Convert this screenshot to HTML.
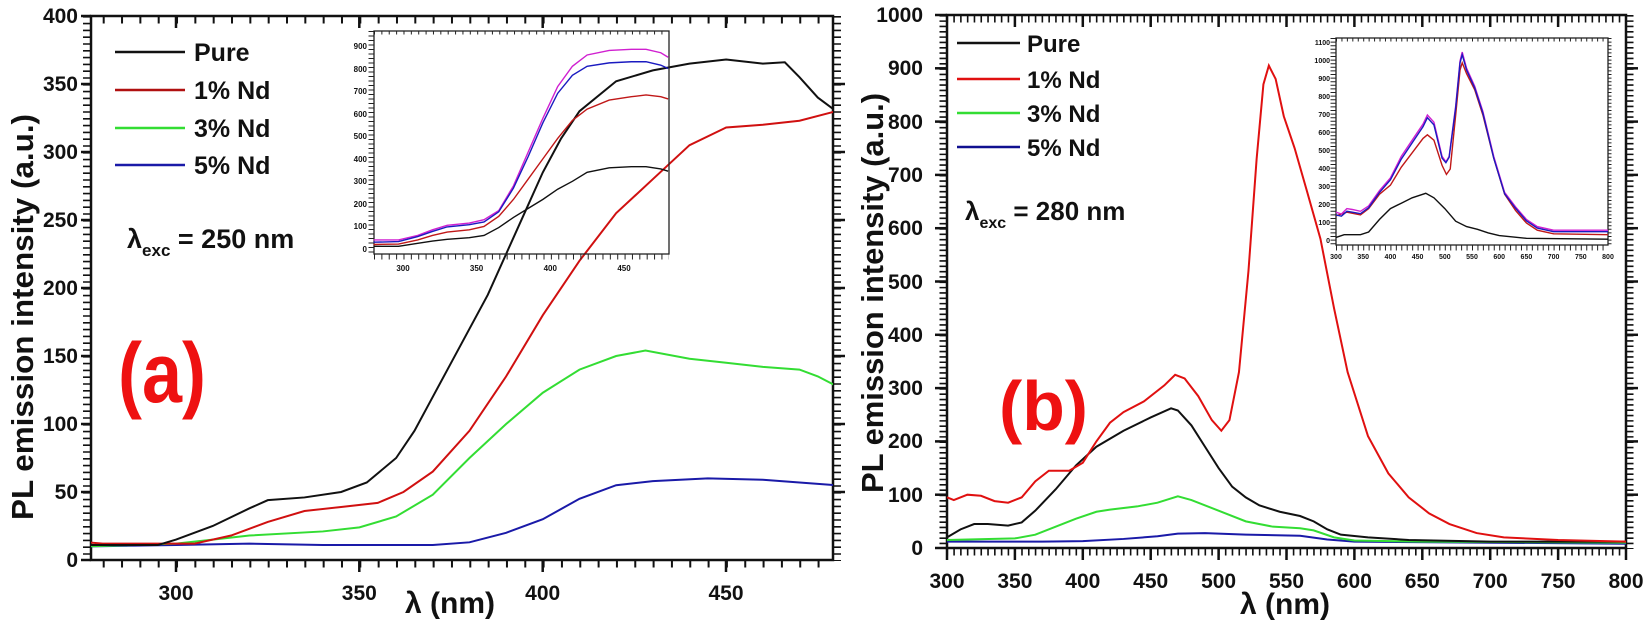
<!DOCTYPE html>
<html><head><meta charset="utf-8"><style>
html,body{margin:0;padding:0;background:#fff}
svg{display:block}
text{font-family:"Liberation Sans",Arial,sans-serif;font-weight:bold;fill:#111}
.d{fill:none;vector-effect:non-scaling-stroke;stroke-width:2}
.di{fill:none;vector-effect:non-scaling-stroke;stroke-width:1.4}
</style></head><body>
<svg width="1650" height="636" viewBox="0 0 1650 636" xmlns="http://www.w3.org/2000/svg">
<rect width="1650" height="636" fill="#fff"/>

<!-- ================= PANEL A ================= -->
<g stroke="#111" fill="none">
<rect x="91" y="16" width="742" height="544" stroke-width="2.5"/>
<line x1="102.7" y1="564" x2="834" y2="564" stroke-width="7" stroke-dasharray="2 16.33"/>
<line x1="102.7" y1="20" x2="834" y2="20" stroke-width="7" stroke-dasharray="2 16.33"/>
<g stroke-width="2.5">
<line x1="176" y1="560" x2="176" y2="572"/><line x1="359.3" y1="560" x2="359.3" y2="572"/><line x1="542.7" y1="560" x2="542.7" y2="572"/><line x1="726" y1="560" x2="726" y2="572"/>
<line x1="176" y1="16" x2="176" y2="28"/><line x1="359.3" y1="16" x2="359.3" y2="28"/><line x1="542.7" y1="16" x2="542.7" y2="28"/><line x1="726" y1="16" x2="726" y2="28"/>
</g>
<line x1="87" y1="16" x2="87" y2="561" stroke-width="8" stroke-dasharray="1.6 5.2"/>
<line x1="837" y1="16" x2="837" y2="561" stroke-width="8" stroke-dasharray="1.6 5.2"/>
<g stroke-width="2.5">
<line x1="81" y1="560" x2="91" y2="560"/><line x1="81" y1="492" x2="91" y2="492"/><line x1="81" y1="424" x2="91" y2="424"/><line x1="81" y1="356" x2="91" y2="356"/><line x1="81" y1="288" x2="91" y2="288"/><line x1="81" y1="220" x2="91" y2="220"/><line x1="81" y1="152" x2="91" y2="152"/><line x1="81" y1="84" x2="91" y2="84"/><line x1="81" y1="16" x2="91" y2="16"/>
<line x1="833" y1="492" x2="845" y2="492"/><line x1="833" y1="424" x2="845" y2="424"/><line x1="833" y1="356" x2="845" y2="356"/><line x1="833" y1="288" x2="845" y2="288"/><line x1="833" y1="220" x2="845" y2="220"/><line x1="833" y1="152" x2="845" y2="152"/><line x1="833" y1="84" x2="845" y2="84"/>
</g>
</g>
<g font-size="21" text-anchor="end">
<text x="78" y="567">0</text><text x="78" y="499">50</text><text x="78" y="431">100</text><text x="78" y="363">150</text><text x="78" y="295">200</text><text x="78" y="227">250</text><text x="78" y="159">300</text><text x="78" y="91">350</text><text x="78" y="23">400</text>
</g>
<g font-size="21" text-anchor="middle">
<text x="176" y="600">300</text><text x="359.3" y="600">350</text><text x="542.7" y="600">400</text><text x="726" y="600">450</text>
</g>
<text x="450" y="613" font-size="30" text-anchor="middle">λ (nm)</text>
<text transform="translate(33,317) rotate(-90)" font-size="31" text-anchor="middle" textLength="406" lengthAdjust="spacingAndGlyphs">PL emission intensity (a.u.)</text>

<svg x="91" y="16" width="742" height="544" overflow="hidden"><g transform="translate(-91,-16)">
<g transform="translate(-924,560) scale(3.667,-1.36)">
<polyline class="d" stroke="#1a1aa8" points="276,10 300,11 320,12 340,11 370,11 380,13 390,20 400,30 410,45 420,55 430,58 445,60 460,59 470,57 480,55"/>
<polyline class="d" stroke="#33dd33" points="276,10 300,12 310,15 320,18 340,21 350,24 360,32 370,48 380,75 390,100 400,123 410,140 420,150 428,154 440,148 450,145 460,142 470,140 475,135 480,128"/>
<polyline class="d" stroke="#d01010" points="276,13 280,12 305,12 315,18 325,28 335,36 345,39 355,42 362,50 370,65 380,95 390,135 400,180 410,220 420,255 430,280 440,305 450,318 460,320 470,323 480,330"/>
<polyline class="d" stroke="#111" points="276,11 295,11 300,15 310,25 320,38 325,44 335,46 345,50 352,57 360,75 365,95 370,120 375,145 380,170 385,195 390,225 395,255 400,285 405,310 410,330 420,352 430,360 440,365 450,368 460,365 466,366 470,355 475,340 480,330"/>
</g></g></svg>

<!-- inset a -->
<g stroke="#222" fill="none">
<rect x="374" y="31" width="295" height="223" stroke-width="1.3"/>
<line x1="374" y1="257" x2="669" y2="257" stroke-width="5" stroke-dasharray="1 6.37"/>
<line x1="371" y1="31" x2="371" y2="254" stroke-width="5" stroke-dasharray="1 3.5"/>
<line x1="374" y1="33" x2="669" y2="33" stroke-width="3" stroke-dasharray="1 6.37"/>
</g>
<g font-size="8" text-anchor="end">
<text x="367" y="252">0</text><text x="367" y="229">100</text><text x="367" y="207">200</text><text x="367" y="184">300</text><text x="367" y="162">400</text><text x="367" y="139">500</text><text x="367" y="117">600</text><text x="367" y="94">700</text><text x="367" y="72">800</text><text x="367" y="49">900</text>
</g>
<g font-size="8" text-anchor="middle">
<text x="403" y="271">300</text><text x="476.6" y="271">350</text><text x="550.3" y="271">400</text><text x="624" y="271">450</text>
</g>
<g transform="translate(-38.9,249) scale(1.473,-0.2256)">
<polyline class="di" stroke="#d020d0" points="280,40 297,40 310,60 320,85 330,105 345,115 355,130 365,170 375,280 385,430 395,580 405,720 415,810 425,860 440,880 455,885 465,885 475,870 480,850"/>
<polyline class="di" stroke="#1a1ac0" points="280,30 297,33 310,55 320,78 330,98 345,108 355,120 365,165 375,270 385,410 395,560 405,690 415,770 425,810 440,825 455,830 465,830 475,815 480,800"/>
<polyline class="di" stroke="#c01818" points="280,20 297,22 310,40 320,60 330,75 345,85 355,100 365,145 375,220 385,310 395,400 405,490 415,570 425,620 440,660 455,675 465,683 475,675 480,665"/>
<polyline class="di" stroke="#111" points="280,12 297,12 310,25 320,35 330,43 345,50 355,60 365,95 375,140 385,180 395,220 405,265 415,300 425,340 440,360 455,365 465,365 475,355 480,345"/>
</g>

<g stroke-width="2.5">
<line x1="115" y1="52" x2="185" y2="52" stroke="#111"/>
<line x1="115" y1="90" x2="185" y2="90" stroke="#b01010"/>
<line x1="115" y1="128" x2="185" y2="128" stroke="#33dd33"/>
<line x1="115" y1="165" x2="185" y2="165" stroke="#1a1aa8"/>
</g>
<g font-size="25">
<text x="194" y="61">Pure</text><text x="194" y="99">1% Nd</text><text x="194" y="137">3% Nd</text><text x="194" y="174">5% Nd</text>
</g>
<text x="127" y="248" font-size="27">λ<tspan font-size="17" dy="8">exc</tspan><tspan dy="-8"> = 250 nm</tspan></text>
<text x="118" y="402" font-size="84" style="fill:#ee1111" textLength="88" lengthAdjust="spacingAndGlyphs">(a)</text>

<!-- ================= PANEL B ================= -->
<g stroke="#111" fill="none">
<rect x="947" y="15" width="679" height="533" stroke-width="2.5"/>
<line x1="946.5" y1="552" x2="1627" y2="552" stroke-width="7" stroke-dasharray="1.6 5.19"/>
<line x1="946.5" y1="19" x2="1627" y2="19" stroke-width="7" stroke-dasharray="1.6 5.19"/>
<line x1="943" y1="15" x2="943" y2="549" stroke-width="7" stroke-dasharray="1.6 3.73"/>
<line x1="1630" y1="15" x2="1630" y2="549" stroke-width="7" stroke-dasharray="1.6 3.73"/>
<g stroke-width="2.5">
<line x1="947" y1="548" x2="947" y2="560"/><line x1="1014.9" y1="548" x2="1014.9" y2="560"/><line x1="1082.8" y1="548" x2="1082.8" y2="560"/><line x1="1150.7" y1="548" x2="1150.7" y2="560"/><line x1="1218.6" y1="548" x2="1218.6" y2="560"/><line x1="1286.5" y1="548" x2="1286.5" y2="560"/><line x1="1354.4" y1="548" x2="1354.4" y2="560"/><line x1="1422.3" y1="548" x2="1422.3" y2="560"/><line x1="1490.2" y1="548" x2="1490.2" y2="560"/><line x1="1558.1" y1="548" x2="1558.1" y2="560"/><line x1="1626" y1="548" x2="1626" y2="560"/>
<line x1="1014.9" y1="15" x2="1014.9" y2="27"/><line x1="1082.8" y1="15" x2="1082.8" y2="27"/><line x1="1150.7" y1="15" x2="1150.7" y2="27"/><line x1="1218.6" y1="15" x2="1218.6" y2="27"/><line x1="1286.5" y1="15" x2="1286.5" y2="27"/><line x1="1354.4" y1="15" x2="1354.4" y2="27"/><line x1="1422.3" y1="15" x2="1422.3" y2="27"/><line x1="1490.2" y1="15" x2="1490.2" y2="27"/><line x1="1558.1" y1="15" x2="1558.1" y2="27"/>
<line x1="935" y1="548" x2="947" y2="548"/><line x1="935" y1="494.7" x2="947" y2="494.7"/><line x1="935" y1="441.4" x2="947" y2="441.4"/><line x1="935" y1="388.1" x2="947" y2="388.1"/><line x1="935" y1="334.8" x2="947" y2="334.8"/><line x1="935" y1="281.5" x2="947" y2="281.5"/><line x1="935" y1="228.2" x2="947" y2="228.2"/><line x1="935" y1="174.9" x2="947" y2="174.9"/><line x1="935" y1="121.6" x2="947" y2="121.6"/><line x1="935" y1="68.3" x2="947" y2="68.3"/><line x1="935" y1="15" x2="947" y2="15"/>
<line x1="1626" y1="494.7" x2="1638" y2="494.7"/><line x1="1626" y1="441.4" x2="1638" y2="441.4"/><line x1="1626" y1="388.1" x2="1638" y2="388.1"/><line x1="1626" y1="334.8" x2="1638" y2="334.8"/><line x1="1626" y1="281.5" x2="1638" y2="281.5"/><line x1="1626" y1="228.2" x2="1638" y2="228.2"/><line x1="1626" y1="174.9" x2="1638" y2="174.9"/><line x1="1626" y1="121.6" x2="1638" y2="121.6"/><line x1="1626" y1="68.3" x2="1638" y2="68.3"/>
</g>
</g>
<g font-size="21" text-anchor="end">
<text x="923" y="555">0</text><text x="923" y="502">100</text><text x="923" y="448">200</text><text x="923" y="395">300</text><text x="923" y="342">400</text><text x="923" y="289">500</text><text x="923" y="235">600</text><text x="923" y="182">700</text><text x="923" y="129">800</text><text x="923" y="75">900</text><text x="923" y="22">1000</text>
</g>
<g font-size="21" text-anchor="middle">
<text x="947" y="588">300</text><text x="1014.9" y="588">350</text><text x="1082.8" y="588">400</text><text x="1150.7" y="588">450</text><text x="1218.6" y="588">500</text><text x="1286.5" y="588">550</text><text x="1354.4" y="588">600</text><text x="1422.3" y="588">650</text><text x="1490.2" y="588">700</text><text x="1558.1" y="588">750</text><text x="1626" y="588">800</text>
</g>
<text x="1285" y="614" font-size="30" text-anchor="middle">λ (nm)</text>
<text transform="translate(883,293) rotate(-90)" font-size="31" text-anchor="middle" textLength="400" lengthAdjust="spacingAndGlyphs">PL emission intensity (a.u.)</text>

<g transform="translate(539.6,548) scale(1.358,-0.533)">
<polyline class="d" stroke="#1a1aa8" points="300,12 370,12 400,13 430,17 455,22 470,27 490,28 520,25 560,23 580,16 600,12 800,8"/>
<polyline class="d" stroke="#33dd33" points="300,15 350,18 365,25 380,40 395,55 410,68 420,72 440,78 455,85 470,97 480,90 500,70 520,50 540,40 560,37 570,33 585,20 600,14 650,12 800,10"/>
<polyline class="d" stroke="#111" points="300,20 310,35 320,45 330,45 345,42 355,48 365,70 380,110 395,155 410,190 430,220 450,245 465,262 470,258 480,230 490,190 500,150 510,115 520,95 530,80 545,68 560,60 570,50 580,35 590,25 610,20 640,15 700,12 800,12"/>
<polyline class="d" stroke="#e01010" points="300,95 305,90 315,100 325,98 335,88 345,85 355,95 365,125 375,145 390,145 400,160 410,200 420,235 430,255 445,275 460,305 468,325 475,318 485,285 495,240 502,220 508,240 515,330 522,520 528,730 533,870 537,905 542,880 548,810 556,750 565,670 575,580 585,450 595,330 610,210 625,140 640,95 655,65 670,45 690,28 710,20 750,15 800,12"/>
</g>

<g stroke="#222" fill="none">
<rect x="1336" y="38" width="272" height="207" stroke-width="1.3"/>
<line x1="1336" y1="248" x2="1608" y2="248" stroke-width="5" stroke-dasharray="1 4.44"/>
<line x1="1333" y1="38" x2="1333" y2="245" stroke-width="5" stroke-dasharray="1 2.6"/>
<line x1="1336" y1="40" x2="1608" y2="40" stroke-width="3" stroke-dasharray="1 4.44"/>
<line x1="1610" y1="38" x2="1610" y2="245" stroke-width="3" stroke-dasharray="1 2.6"/>
</g>
<g font-size="7" text-anchor="end">
<text x="1330" y="243">0</text><text x="1330" y="225">100</text><text x="1330" y="207">200</text><text x="1330" y="189">300</text><text x="1330" y="171">400</text><text x="1330" y="153">500</text><text x="1330" y="135">600</text><text x="1330" y="117">700</text><text x="1330" y="99">800</text><text x="1330" y="81">900</text><text x="1330" y="63">1000</text><text x="1330" y="45">1100</text>
</g>
<g font-size="7" text-anchor="middle">
<text x="1336" y="259">300</text><text x="1363.2" y="259">350</text><text x="1390.4" y="259">400</text><text x="1417.6" y="259">450</text><text x="1444.8" y="259">500</text><text x="1472" y="259">550</text><text x="1499.2" y="259">600</text><text x="1526.4" y="259">650</text><text x="1553.6" y="259">700</text><text x="1580.8" y="259">750</text><text x="1608" y="259">800</text>
</g>
<g transform="translate(1172.8,241) scale(0.544,-0.18)">
<polyline class="di" stroke="#111" points="300,20 315,35 345,35 360,50 380,120 400,180 420,210 440,240 465,265 480,240 500,180 520,110 540,80 560,65 580,45 600,30 650,15 800,10"/>
<polyline class="di" stroke="#c01818" points="300,140 320,160 345,145 360,180 380,260 400,310 420,410 440,490 460,570 468,590 480,560 495,420 503,370 510,400 520,700 528,950 532,990 540,930 555,840 570,700 590,460 610,260 630,170 650,100 670,60 700,40 800,35"/>
<polyline class="di" stroke="#d020d0" points="300,160 310,150 320,180 330,175 345,165 360,195 380,280 400,350 420,470 440,560 460,650 468,700 480,660 495,470 502,440 508,470 520,750 528,1000 532,1050 540,960 555,860 570,720 590,470 610,270 630,190 650,120 670,80 700,60 800,60"/>
<polyline class="di" stroke="#1a1ac0" points="300,145 310,138 320,165 330,160 345,152 360,185 380,270 400,340 420,455 440,545 460,635 468,685 480,645 495,460 502,435 508,465 520,740 528,990 532,1035 540,950 555,850 570,710 590,460 610,262 630,182 650,112 670,72 700,52 800,52"/>
</g>

<g stroke-width="2.5">
<line x1="957" y1="43" x2="1020" y2="43" stroke="#111"/>
<line x1="957" y1="79" x2="1020" y2="79" stroke="#e01010"/>
<line x1="957" y1="113" x2="1020" y2="113" stroke="#33dd33"/>
<line x1="957" y1="147" x2="1020" y2="147" stroke="#101090"/>
</g>
<g font-size="24">
<text x="1027" y="52">Pure</text><text x="1027" y="88">1% Nd</text><text x="1027" y="122">3% Nd</text><text x="1027" y="156">5% Nd</text>
</g>
<text x="965" y="220" font-size="26">λ<tspan font-size="16" dy="8">exc</tspan><tspan dy="-8"> = 280 nm</tspan></text>
<text x="999" y="430" font-size="70" style="fill:#ee1111" textLength="89" lengthAdjust="spacingAndGlyphs">(b)</text>
</svg>
</body></html>
